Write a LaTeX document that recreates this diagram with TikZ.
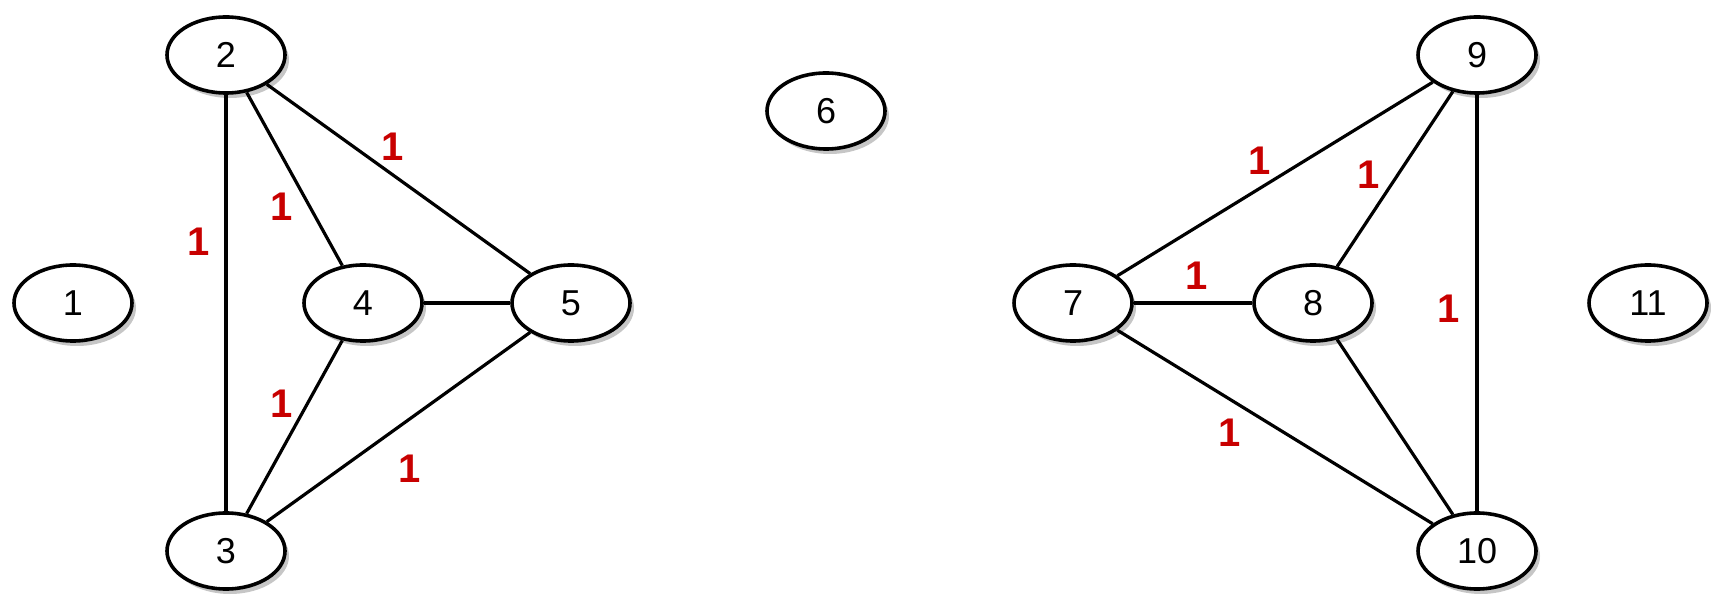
\documentclass[tikz,border=0pt]{standalone}
\usepackage{fontspec}
\setmainfont{Liberation Sans}
\usetikzlibrary{shapes.geometric,shadows}

\tikzset{
  vertex/.style={ellipse, draw, line width=1.8pt, fill=white, inner sep=0pt,
    minimum width=59pt, minimum height=38pt,
    font=\fontsize{18}{18}\selectfont,
    drop shadow={shadow xshift=2pt, shadow yshift=-2.5pt, opacity=0.45}},
  link/.style={line width=1.6pt},
  weight/.style={text=wred, font=\fontsize{20}{20}\selectfont\bfseries}
}
\definecolor{wred}{RGB}{200,0,0}

\begin{document}
\begin{tikzpicture}[x=0.5pt, y=-0.5pt]
  \useasboundingbox (0,0) rectangle (1711,603);

  % left component
  \node[vertex] (n1) at (73,303) {1};
  \node[vertex] (n2) at (226,55) {2};
  \node[vertex] (n3) at (226,551) {3};
  \node[vertex] (n4) at (363,303) {4};
  \node[vertex] (n5) at (571,303) {5};

  % isolated
  \node[vertex] (n6) at (826,111) {6};

  % right component
  \node[vertex] (n7) at (1073,303) {7};
  \node[vertex] (n8) at (1313,303) {8};
  \node[vertex] (n9) at (1477,55) {9};
  \node[vertex] (n10) at (1477,551) {10};
  \node[vertex] (n11) at (1648,303) {11};

  % edges
  \draw[link] (n2) -- (n3);
  \draw[link] (n2) -- (n4);
  \draw[link] (n2) -- (n5);
  \draw[link] (n4) -- (n5);
  \draw[link] (n4) -- (n3);
  \draw[link] (n5) -- (n3);

  \draw[link] (n7) -- (n9);
  \draw[link] (n8) -- (n9);
  \draw[link] (n7) -- (n8);
  \draw[link] (n9) -- (n10);
  \draw[link] (n7) -- (n10);
  \draw[link] (n8) -- (n10);

  % weights
  \node[weight] (w25) at (393,147) {1};
  \node[weight] (w24) at (282,207) {1};
  \node[weight] (w23) at (199,242) {1};
  \node[weight] (w43) at (282,404) {1};
  \node[weight] (w53) at (410,469) {1};

  \node[weight] (w79) at (1260,161) {1};
  \node[weight] (w89) at (1369,175) {1};
  \node[weight] (w78) at (1197,276) {1};
  \node[weight] (w910) at (1449,309) {1};
  \node[weight] (w710) at (1230,433) {1};
\end{tikzpicture}
\end{document}
